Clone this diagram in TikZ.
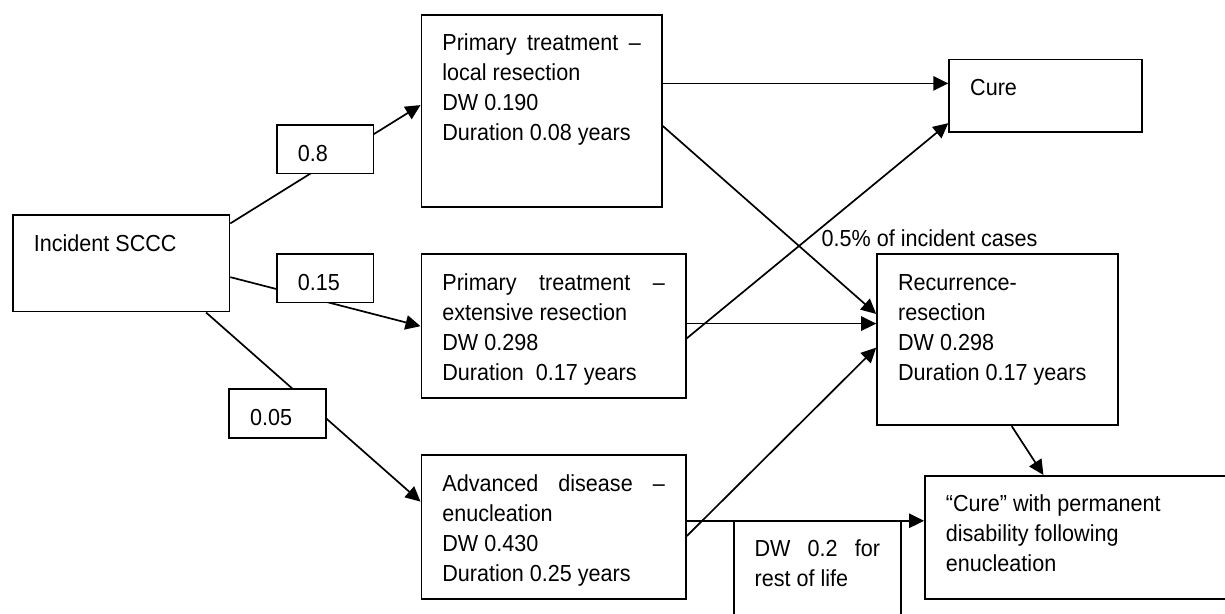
\documentclass[tikz,border=0pt]{standalone}
\usepackage{fontspec}
\setmainfont{Liberation Sans}[FakeStretch=0.93]
\usetikzlibrary{arrows.meta}
\usetikzlibrary{calc}
\tikzset{
    box/.style={draw,line width=0.9pt,anchor=north west,inner xsep=10.5pt,inner ysep=0pt,
        font=\fontsize{11.6}{15}\selectfont},
    prob/.style={box,fill=white},
    link/.style={line width=0.85pt},
    arr/.style={link,-{Triangle[length=7.5pt,width=7.2pt]}},
}
\newcommand{\cell}[3]{\parbox[c][#2][t]{#1}{\rule{0pt}{18pt}#3}}

\begin{document}
\begin{tikzpicture}[x=0.5pt,y=-0.5pt]
\useasboundingbox (0,0) rectangle (1225,614);
\node[box] (inc) at (12,214.3) {\cell{87.25pt}{48.2pt}{Incident SCCC}};
\node[box] (loc) at (420.5,14) {\cell{99.25pt}{96pt}{Primary \hfill treatment \hfill --\\ local resection\\ DW 0.190\\ Duration 0.08 years}};
\node[box] (ext) at (420.5,253.3) {\cell{111.25pt}{72pt}{Primary \hfill treatment \hfill --\\ extensive resection\\ DW 0.298\\ Duration\ \ 0.17 years}};
\node[box] (adv) at (420.5,454.3) {\cell{111.25pt}{71.7pt}{Advanced \hfill disease \hfill --\\ enucleation\\ DW 0.430\\ Duration 0.25 years}};
\node[box] (cure) at (948.3,58.7) {\cell{75.25pt}{36.15pt}{Cure}};
\node[box] (rec) at (876.2,253.3) {\cell{99.5pt}{85.5pt}{Recurrence-\\ resection\\ DW 0.298\\ Duration 0.17 years}};
\node[box] (cwd) at (924,475) {\cell{144pt}{61.65pt}{“Cure” with permanent\\ disability following\\ enucleation}};
\node[anchor=base west,inner sep=0pt,font=\fontsize{11.6}{15}\selectfont] (note) at (821.2,246.7) {0.5\% of incident cases};

\draw[arr] ($(inc.north east)!0.093!(inc.south east)$) -- ($(loc.north west)!0.47!(loc.south west)$);
\draw[arr] ($(inc.north east)!0.64!(inc.south east)$) -- (ext.west);
\draw[arr] ($(inc.south west)!0.889!(inc.south east)$) -- ($(adv.north west)!0.326!(adv.south west)$);
\coordinate (lc) at ($(loc.north east)!0.358!(loc.south east)$);
\draw[arr] (lc) -- (lc -| cure.west);
\draw[arr] ($(loc.north east)!0.578!(loc.south east)$) -- ($(rec.north west)!0.351!(rec.south west)$);
\draw[arr] ($(ext.north east)!0.583!(ext.south east)$) -- ($(cure.north west)!0.87!(cure.south west)$);
\coordinate (er) at ($(ext.north east)!0.482!(ext.south east)$);
\draw[arr] (er) -- (er -| rec.west);
\draw[arr] ($(adv.north east)!0.563!(adv.south east)$) -- ($(rec.north west)!0.546!(rec.south west)$);
\coordinate (ac) at ($(adv.north east)!0.458!(adv.south east)$);
\draw[arr] (ac) -- (ac -| cwd.west);
\draw[arr] ($(rec.south west)!0.558!(rec.south east)$) -- ($(cwd.north west)!0.36!(cwd.north east)$);

\node[prob] (p1) at (276,124.3) {\cell{27.25pt}{24.2pt}{0.8}};
\node[prob] (p2) at (276,253.3) {\cell{27.25pt}{24.2pt}{0.15}};
\node[prob] (p3) at (228.2,388.3) {\cell{27.25pt}{24.2pt}{0.05}};
\node[box] (dwl) at (732.7,520) {\cell{62.7pt}{55pt}{DW \hfill 0.2 \hfill for\\ rest of life}};
%\node[box] at (0,0) {};
\end{tikzpicture}
\end{document}
